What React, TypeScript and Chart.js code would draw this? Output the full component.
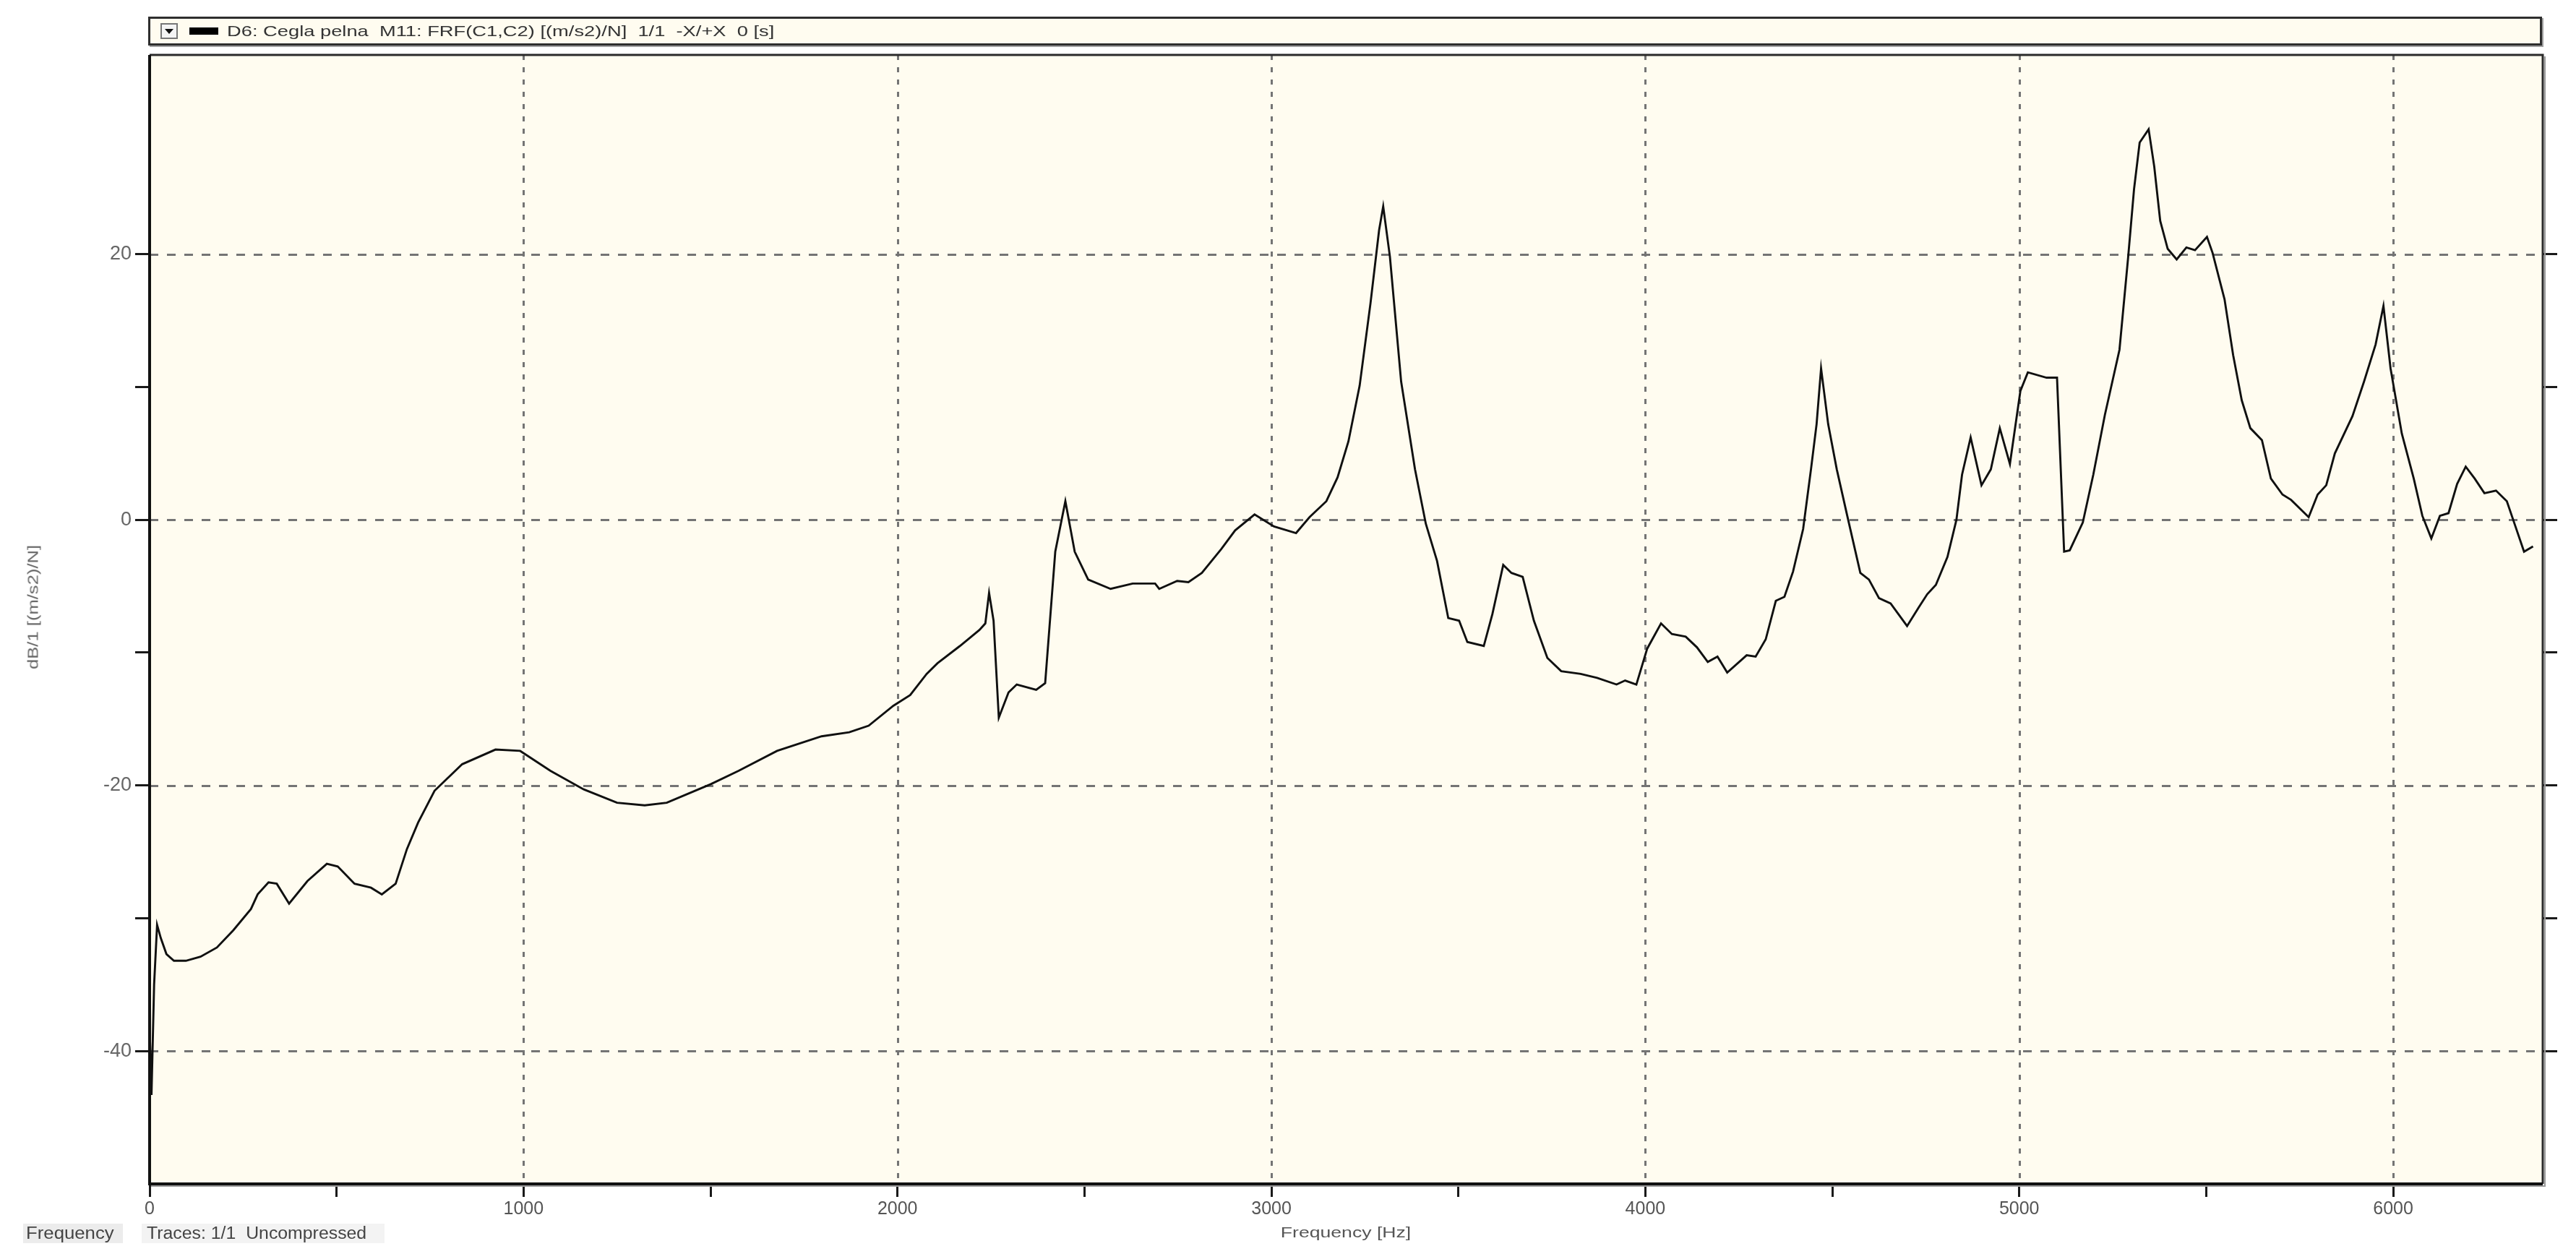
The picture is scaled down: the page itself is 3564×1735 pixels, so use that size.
import React, { useEffect, useRef } from 'react';
import { Chart, registerables } from 'chart.js';

Chart.register(...registerables);

// ---- data ----
const freqHz = [
  0, 5, 12, 20, 30, 45, 65, 97, 136, 180, 224, 271, 289, 318, 340, 373, 422, 474, 503, 548,
  592, 621, 658, 688, 718, 762, 836, 925, 991, 1072, 1161, 1250, 1324, 1383, 1501, 1575, 1678, 1797, 1871, 1923,
  1989, 2034, 2078, 2107, 2167, 2219, 2235, 2245, 2257, 2271, 2297, 2319, 2371, 2395, 2422, 2449, 2474, 2510, 2570, 2629,
  2689, 2700, 2748, 2778, 2814, 2866, 2903, 2955, 3007, 3066, 3102, 3147, 3177, 3206, 3236, 3265, 3288, 3299, 3317, 3347,
  3384, 3413, 3443, 3473, 3502, 3524, 3568, 3591, 3620, 3642, 3672, 3702, 3738, 3775, 3827, 3871, 3923, 3946, 3976, 4005,
  4042, 4071, 4108, 4138, 4167, 4193, 4219, 4271, 4295, 4322, 4349, 4372, 4395, 4422, 4443, 4458, 4470, 4489, 4512, 4540,
  4575, 4598, 4625, 4656, 4700, 4731, 4754, 4777, 4808, 4832, 4847, 4870, 4899, 4924, 4948, 4975, 5003, 5023, 5073, 5101,
  5120, 5135, 5170, 5198, 5229, 5268, 5291, 5307, 5322, 5346, 5361, 5377, 5397, 5421, 5447, 5470, 5502, 5517, 5549, 5572,
  5595, 5618, 5649, 5673, 5704, 5727, 5774, 5798, 5821, 5844, 5891, 5922, 5953, 5974, 5993, 6023, 6055, 6078, 6102, 6125,
  6148, 6171, 6194, 6218, 6244, 6275, 6304, 6327, 6350, 6374,
];
const levelDb = [
  -38.2, -43.3, -35.0, -30.5, -31.5, -32.7, -33.2, -33.2, -32.9, -32.2, -30.9, -29.3, -28.2, -27.3, -27.4, -28.9, -27.2, -25.9, -26.1, -27.4,
  -27.7, -28.2, -27.4, -24.8, -22.8, -20.4, -18.4, -17.3, -17.4, -18.9, -20.3, -21.3, -21.5, -21.3, -19.9, -18.9, -17.4, -16.3, -16.0, -15.5,
  -14.0, -13.2, -11.6, -10.8, -9.5, -8.3, -7.8, -5.5, -7.6, -14.9, -13.0, -12.4, -12.8, -12.3, -2.4, 1.4, -2.4, -4.5, -5.2, -4.8,
  -4.8, -5.2, -4.6, -4.7, -4.0, -2.2, -0.8, 0.4, -0.5, -1.0, 0.2, 1.4, 3.2, 5.9, 10.1, 16.3, 21.8, 23.6, 19.8, 10.4,
  3.8, -0.3, -3.1, -7.4, -7.6, -9.2, -9.5, -7.1, -3.4, -4.0, -4.3, -7.6, -10.4, -11.4, -11.6, -11.9, -12.4, -12.1, -12.4, -9.7,
  -7.8, -8.6, -8.8, -9.6, -10.7, -10.3, -11.5, -10.2, -10.3, -9.0, -6.1, -5.8, -3.9, -0.7, 3.8, 7.2, 11.4, 7.2, 3.8, 0.3,
  -4.0, -4.5, -5.9, -6.3, -8.0, -6.6, -5.6, -4.9, -2.8, 0.0, 3.4, 6.2, 2.6, 3.8, 6.9, 4.2, 9.7, 11.1, 10.7, 10.7,
  -2.4, -2.3, -0.2, 3.4, 7.9, 12.8, 19.7, 24.9, 28.4, 29.4, 26.6, 22.5, 20.4, 19.6, 20.5, 20.3, 21.3, 20.1, 16.6, 12.4,
  9.0, 6.9, 6.0, 3.1, 1.9, 1.5, 0.2, 1.9, 2.6, 5.0, 7.8, 10.4, 13.2, 16.1, 11.4, 6.5, 3.1, 0.3, -1.4, 0.3,
  0.5, 2.7, 4.0, 3.1, 2.0, 2.2, 1.4, -0.5, -2.4, -2.0,
];

const xTickValues = [0, 500, 1000, 1500, 2000, 2500, 3000, 3500, 4000, 4500, 5000, 5500, 6000];
const xLabelEvery = 1000;
const yTickValues = [-40, -30, -20, -10, 0, 10, 20];
const yLabelEvery = 20;
const xRange = [0, 6400];
const yRange = [-50, 35];

const legendText = 'D6: Cegla pelna  M11: FRF(C1,C2) [(m/s2)/N]  1/1  -X/+X  0 [s]';
const xTitle = 'Frequency [Hz]';
const yTitle = 'dB/1 [(m/s2)/N]';
const statusLeft = 'Frequency';
const statusRight = 'Traces: 1/1  Uncompressed';

const W = 3564;
const H = 1735;
const PLOT_BG = '#FFFCF0';
const FONT = '"Liberation Sans", Arial, sans-serif';

const framePlugin = {
  id: 'lmsFrame',
  beforeDraw(chart: any) {
    const { ctx, chartArea: a } = chart;
    ctx.save();
    ctx.fillStyle = '#ffffff';
    ctx.fillRect(0, 0, chart.width, chart.height);
    ctx.fillStyle = PLOT_BG;
    ctx.fillRect(a.left, a.top, a.right - a.left, a.bottom - a.top);
    ctx.restore();
  },
  beforeDatasetsDraw(chart: any) {
    const { ctx, chartArea: a, scales } = chart;
    const xs = scales.x;
    const ys = scales.y;
    ctx.save();
    ctx.strokeStyle = '#747474';
    ctx.lineWidth = 3;
    ctx.setLineDash([7, 10]);
    xTickValues
      .filter((v) => v % xLabelEvery === 0 && v > xRange[0])
      .forEach((v) => {
        const px = Math.round(xs.getPixelForValue(v)) + 0.5;
        ctx.beginPath();
        ctx.moveTo(px, a.top);
        ctx.lineTo(px, a.bottom);
        ctx.stroke();
      });
    ctx.setLineDash([12, 12]);
    yTickValues
      .filter((v) => v % yLabelEvery === 0)
      .forEach((v) => {
        const py = Math.round(ys.getPixelForValue(v)) + 0.5;
        ctx.beginPath();
        ctx.moveTo(a.left, py);
        ctx.lineTo(a.right, py);
        ctx.stroke();
      });
    ctx.restore();
  },
  afterDatasetsDraw(chart: any) {
    const { ctx, chartArea: a } = chart;
    ctx.save();
    ctx.setLineDash([]);
    ctx.strokeStyle = '#9a9a9a';
    ctx.lineWidth = 2;
    ctx.beginPath();
    ctx.moveTo(a.right + 3, a.top + 2);
    ctx.lineTo(a.right + 3, a.bottom + 3);
    ctx.lineTo(a.left + 2, a.bottom + 3);
    ctx.stroke();
    ctx.strokeStyle = '#2a2a2a';
    ctx.lineWidth = 3;
    ctx.beginPath();
    ctx.moveTo(a.left, a.top);
    ctx.lineTo(a.right, a.top);
    ctx.lineTo(a.right, a.bottom);
    ctx.stroke();
    ctx.strokeStyle = '#111';
    ctx.lineWidth = 4;
    ctx.beginPath();
    ctx.moveTo(a.left, a.top);
    ctx.lineTo(a.left, a.bottom);
    ctx.lineTo(a.right, a.bottom);
    ctx.stroke();
    ctx.restore();
  },
};

export default function App() {
  const canvasRef = useRef<HTMLCanvasElement | null>(null);

  useEffect(() => {
    const canvas = canvasRef.current;
    if (!canvas) return;
    const points = freqHz.map((f, i) => ({ x: f, y: levelDb[i] }));
    const tickGrid = (len: number) => ({
      display: true,
      drawOnChartArea: false,
      drawTicks: true,
      tickLength: len,
      tickWidth: 3,
      tickColor: '#1a1a1a',
      color: '#1a1a1a',
    });
    const chart = new Chart(canvas, {
      type: 'line',
      data: {
        datasets: [
          {
            data: points,
            borderColor: '#101010',
            borderWidth: 2.9,
            pointRadius: 0,
            tension: 0,
            fill: false,
          },
        ],
      },
      options: {
        responsive: false,
        maintainAspectRatio: false,
        devicePixelRatio: 1,
        animation: false,
        layout: { padding: { left: 0, top: 76, right: 0, bottom: 0 } },
        plugins: {
          legend: { display: false },
          tooltip: { enabled: false },
          title: { display: false },
        },
        scales: {
          x: {
            type: 'linear',
            position: 'bottom',
            min: xRange[0],
            max: xRange[1],
            afterBuildTicks: (scale: any) => {
              scale.ticks = xTickValues.map((v) => ({ value: v }));
            },
            afterFit: (scale: any) => {
              scale.height = H - 1638;
            },
            ticks: {
              autoSkip: false,
              maxRotation: 0,
              minRotation: 0,
              padding: 2,
              color: '#555',
              font: { family: FONT, size: 25 },
              callback: (v: any) => (Number(v) % xLabelEvery === 0 ? String(v) : ''),
            },
            grid: tickGrid(18),
            border: { display: false },
          },
          y: {
            type: 'linear',
            position: 'left',
            min: yRange[0],
            max: yRange[1],
            afterBuildTicks: (scale: any) => {
              scale.ticks = yTickValues.map((v) => ({ value: v }));
            },
            afterFit: (scale: any) => {
              scale.width = 207;
            },
            ticks: {
              autoSkip: false,
              padding: 5,
              color: '#666',
              font: { family: FONT, size: 27 },
              callback: (v: any) => (Number(v) % yLabelEvery === 0 ? String(v) : ''),
            },
            grid: tickGrid(20),
            border: { display: false },
          },
          y2: {
            type: 'linear',
            position: 'right',
            min: yRange[0],
            max: yRange[1],
            afterBuildTicks: (scale: any) => {
              scale.ticks = yTickValues.map((v) => ({ value: v }));
            },
            afterFit: (scale: any) => {
              scale.width = W - 3518;
            },
            ticks: { display: true, callback: () => '' },
            grid: tickGrid(20),
            border: { display: false },
          },
        },
      } as any,
      plugins: [framePlugin],
    });
    return () => {
      chart.destroy();
    };
  }, []);

  return (
    <div
      style={{
        position: 'fixed',
        left: 0,
        top: 0,
        width: W,
        height: H,
        background: '#fff',
        overflow: 'hidden',
        fontFamily: FONT,
      }}
    >
      <canvas
        ref={canvasRef}
        width={W}
        height={H}
        style={{ position: 'absolute', left: 0, top: 0, width: W, height: H }}
      />
      <div
        style={{
          position: 'absolute',
          left: 205,
          top: 23,
          width: 3312,
          height: 40,
          boxSizing: 'border-box',
          border: '3px solid #2e2e2e',
          background: PLOT_BG,
          boxShadow: '2px 2px 0 #a0a0a0',
        }}
      >
        <div
          style={{
            position: 'absolute',
            left: 14,
            top: 6,
            width: 24,
            height: 22,
            boxSizing: 'border-box',
            border: '2px solid #777',
            background: '#f4f4f4',
          }}
        >
          <div
            style={{
              position: 'absolute',
              left: 4,
              top: 6,
              width: 0,
              height: 0,
              borderLeft: '6px solid transparent',
              borderRight: '6px solid transparent',
              borderTop: '7px solid #111',
            }}
          />
        </div>
        <div
          style={{
            position: 'absolute',
            left: 54,
            top: 12,
            width: 40,
            height: 10,
            background: '#000',
          }}
        />
        <div
          style={{
            position: 'absolute',
            left: 106,
            top: 3,
            fontSize: 21,
            lineHeight: '27px',
            color: '#333',
            whiteSpace: 'pre',
            transform: 'scaleX(1.3)',
            transformOrigin: 'left center',
          }}
        >
          {legendText}
        </div>
      </div>
      <div
        style={{
          position: 'absolute',
          left: 46,
          top: 840,
          fontSize: 20,
          color: '#666',
          whiteSpace: 'pre',
          transform: 'translate(-50%, -50%) rotate(-90deg) scaleX(1.28)',
        }}
      >
        {yTitle}
      </div>
      <div
        style={{
          position: 'absolute',
          left: 1862,
          top: 1705,
          fontSize: 20,
          color: '#555',
          whiteSpace: 'pre',
          transform: 'translate(-50%, -50%) scaleX(1.33)',
        }}
      >
        {xTitle}
      </div>
      <div
        style={{
          position: 'absolute',
          left: 32,
          top: 1693,
          width: 138,
          height: 27,
          background: '#ececec',
        }}
      />
      <div
        style={{
          position: 'absolute',
          left: 196,
          top: 1693,
          width: 336,
          height: 27,
          background: '#f3f3f3',
        }}
      />
      <div
        style={{
          position: 'absolute',
          left: 36,
          top: 1693,
          fontSize: 23,
          lineHeight: '27px',
          color: '#444',
          whiteSpace: 'pre',
          transform: 'scaleX(1.12)',
          transformOrigin: 'left center',
        }}
      >
        {statusLeft}
      </div>
      <div
        style={{
          position: 'absolute',
          left: 203,
          top: 1693,
          fontSize: 23,
          lineHeight: '27px',
          color: '#444',
          whiteSpace: 'pre',
          transform: 'scaleX(1.08)',
          transformOrigin: 'left center',
        }}
      >
        {statusRight}
      </div>
    </div>
  );
}
